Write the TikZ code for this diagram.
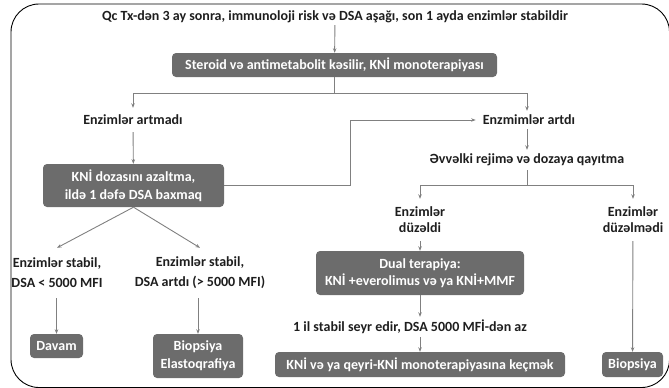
\documentclass[tikz,border=0pt]{standalone}
\usepackage{fontspec}
\setmainfont{Carlito}
\usetikzlibrary{arrows.meta}
\definecolor{boxgray}{RGB}{108,108,108}
\definecolor{linegray}{RGB}{128,128,128}
\definecolor{txt}{RGB}{30,30,30}
\tikzset{
  box/.style={draw=none, fill=boxgray, rounded corners=4pt, text=white, font=\fontsize{14}{17}\selectfont\bfseries, align=center, inner sep=0pt},
  lbl/.style={text=txt, font=\fontsize{14}{20}\selectfont\bfseries, align=center, inner sep=0pt},
  lbls/.style={text=txt, font=\fontsize{14}{16}\selectfont\bfseries, align=center, inner sep=0pt},
  conn/.style={draw=linegray, line width=0.9pt},
  arr/.style={conn, -{Stealth[length=4.5pt,width=3.5pt]}},
}
\begin{document}
\begin{tikzpicture}[x=1pt,y=-1pt]
\useasboundingbox (0,0) rectangle (669,388);
\draw[black, line width=0.9pt, rounded corners=28pt] (11,4) rectangle (669.5,387.5);

\node[lbl, minimum height=16pt] (title) at (335,17) {Qc Tx-dən 3 ay sonra, immunoloji risk və DSA aşağı, son 1 ayda enzimlər stabildir};
\node[box, minimum width=325pt, minimum height=24pt] (b1) at (334.5,65) {Steroid və antimetabolit kəsilir, KNİ monoterapiyası};

\node[lbl, minimum height=24pt] (artmadi) at (133,120) {Enzimlər artmadı};
\node[lbl, minimum height=18pt, inner xsep=7pt] (artdi) at (529,120) {Enzmimlər artdı};
\node[lbl, minimum height=20pt] (evv) at (527,160) {Əvvəlki rejimə və dozaya qayıtma};

\node[box, minimum width=181pt, minimum height=43pt, font=\fontsize{14}{18}\selectfont\bfseries] (kni) at (133.5,185.5) {KNİ dozasını azaltma,\\ildə 1 dəfə DSA baxmaq};

\node[lbl, minimum height=50pt] (s1) at (57,273) {Enzimlər stabil,\\DSA < 5000 MFI};
\node[lbl, minimum height=50pt] (s2) at (200,273) {Enzimlər stabil,\\DSA artdı (> 5000 MFI)};
\node[box, minimum width=53pt, minimum height=24pt] (davam) at (56.5,346) {Davam};
\node[box, minimum width=90pt, minimum height=44pt, font=\fontsize{14}{18}\selectfont\bfseries] (bioel) at (198,356) {Biopsiya\\Elastoqrafiya};

\node[lbls, minimum height=42pt] (duz) at (420,220) {Enzimlər\\düzəldi};
\node[lbls, minimum height=42pt] (duzm) at (633,220) {Enzimlər\\düzəlmədi};
\node[box, minimum width=208pt, minimum height=44pt] (dual) at (420,273) {Dual terapiya:\\KNİ +everolimus və ya KNİ+MMF};
\node[lbl, minimum height=20pt] (stab) at (410,327) {1 il stabil seyr edir, DSA 5000 MFİ-dən az};
\node[box, minimum width=290pt, minimum height=25pt] (mono) at (420,364.5) {KNİ və ya qeyri-KNİ monoterapiyasına keçmək};
\node[box, minimum width=61pt, minimum height=25pt] (biop) at (632.5,364.5) {Biopsiya};

% connectors
\draw[arr] (title) -- (b1);
\draw[conn] (b1.south) -- ++(0,16) coordinate (j1);
\draw[arr] (j1) -| (artmadi.north);
\draw[arr] (j1) -| (artdi.north -| evv.north);
\draw[arr] (artmadi) -- (kni);
\draw[arr] (kni.east) -- ++(126,0) |- (artdi.west);
\draw[arr] (artdi.south -| evv.north) -- (evv.north);
\draw[conn] (evv.south) -- ++(0,15) coordinate (j2);
\draw[arr] (j2) -| (duz.north);
\draw[arr] (j2) -| (duzm.north);
\draw[arr] (kni.south) -- (s1.north);
\draw[arr] (kni.south) -- (s2.north);
\draw[arr] (s1.south -| davam.north) -- (davam.north);
\draw[arr] (s2.south -| bioel.north) -- (bioel.north);
\draw[arr] (duz) -- (dual);
\draw[arr] (dual.south) -- (dual.south |- stab.north);
\draw[arr] (mono.north |- stab.south) -- (mono.north);
\draw[arr] (duzm) -- (biop);
\end{tikzpicture}
\end{document}
